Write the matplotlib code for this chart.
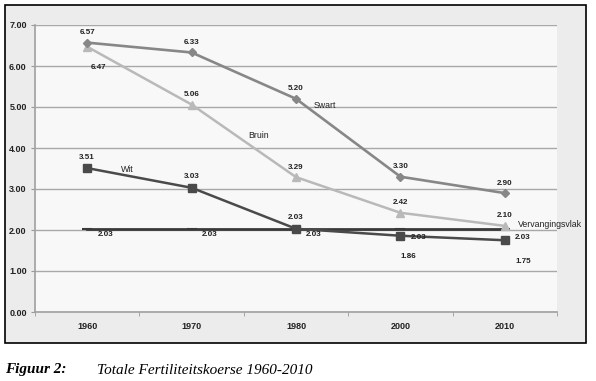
"""Totale Fertiliteitskoerse 1960-2010 -- line chart with a caption below the frame."""
import matplotlib
matplotlib.use("Agg")
import matplotlib.pyplot as plt
from matplotlib.patches import Rectangle

years = ["1960", "1970", "1980", "2000", "2010"]
swart = [6.57, 6.33, 5.20, 3.30, 2.90]
bruin = [6.47, 5.06, 3.29, 2.42, 2.10]
wit = [3.51, 3.03, 2.03, 1.86, 1.75]
vervanging = [2.03, 2.03, 2.03, 2.03, 2.03]
yticks = [0, 1, 2, 3, 4, 5, 6, 7]

PX = 72 / 100  # pixels -> points

fig = plt.figure(figsize=(5.96, 3.81), dpi=100)
fig.patch.set_facecolor("white")
W, H = 596, 381

# grey frame behind the chart
fig.patches.append(Rectangle((5 / W, 1 - 343 / H), 581 / W, 338 / H,
                             transform=fig.transFigure, facecolor="#ececec",
                             edgecolor="black", linewidth=1.2, zorder=-1))

ax = fig.add_axes([35 / W, 1 - 312 / H, 522 / W, 287 / H])
ax.set_zorder(1)
ax.set_facecolor("#f8f8f8")
x = list(range(len(years)))

ax.plot(x, vervanging, color="#3a3a3a", lw=2.0, marker="_", ms=7, mew=1.5, zorder=3)
ax.plot(x, wit, color="#4a4a4a", lw=1.8, marker="s", ms=5.5, zorder=4)
ax.plot(x, bruin, color="#b9b9b9", lw=1.8, marker="^", ms=5.5, zorder=4)
ax.plot(x, swart, color="#878787", lw=1.9, marker="D", ms=4, zorder=4)

ax.set_xlim(-0.5, len(years) - 0.5)
ax.set_ylim(0, 7)
ax.set_yticks(yticks)
ax.set_yticklabels([f"{v:.2f}" for v in yticks])
ax.set_xticks(x)
ax.set_xticklabels(years)
ax.set_xticks([i + 0.5 for i in range(-1, len(years))], minor=True)
ax.tick_params(axis="x", which="major", length=0, pad=7)
ax.tick_params(axis="x", which="minor", length=3, color="#999999")
ax.tick_params(axis="y", length=3, color="#999999", pad=3)
for lab in ax.get_xticklabels() + ax.get_yticklabels():
    lab.set_fontweight("bold")
    lab.set_fontsize(6.5)
    lab.set_color("#222222")
    lab.set_family("Liberation Sans")

ax.grid(axis="y", color="#a8a8a8", lw=1.0)
ax.set_axisbelow(True)
for side in ["top", "right"]:
    ax.spines[side].set_visible(False)
for side in ["left", "bottom"]:
    ax.spines[side].set_color("#a0a0a0")
    ax.spines[side].set_linewidth(1.2)


def label(xi, yi, text, dx, dy, weight="bold", ha="center", size=5.8):
    # dx, dy in pixels (dy positive = down)
    ax.annotate(text, (xi, yi), xytext=(dx * PX, -dy * PX), textcoords="offset points",
                ha=ha, va="center", fontsize=size, fontweight=weight,
                family="Liberation Sans", color="#222222", zorder=6,
                annotation_clip=False)


# value labels
for i, v in enumerate(swart):
    label(i, v, f"{v:.2f}", 0, -10)
label(0, bruin[0], f"{bruin[0]:.2f}", 11, 21)
for i, v in enumerate(bruin[1:], start=1):
    label(i, v, f"{v:.2f}", 0, -10)
for i, v in enumerate(wit[:3]):
    label(i, v, f"{v:.2f}", 0, -11)
label(3, wit[3], f"{wit[3]:.2f}", 8, 21)
label(4, wit[4], f"{wit[4]:.2f}", 18, 21)
for i, v in enumerate(vervanging):
    label(i, v, f"{v:.2f}", 18, 6 if i < 3 else 9)

# series names
label(0, wit[0], "Wit", 40, 1, weight="normal", size=6.3)
label(1, bruin[1], "Bruin", 67, 31, weight="normal", size=6.3)
label(2, swart[2], "Swart", 29, 7, weight="normal", size=6.3)
label(4, vervanging[4], "Vervangingsvlak", 13, -4, weight="normal", ha="left", size=6.3)

# caption
fig.text(5 / W, 1 - 370 / H, "Figuur 2:", family="Liberation Serif", style="italic",
         fontweight="bold", fontsize=11, va="center", ha="left")
fig.text(97 / W, 1 - 370 / H, "Totale Fertiliteitskoerse 1960-2010", family="Liberation Serif",
         style="italic", fontsize=11, va="center", ha="left")

fig.savefig("out.png", dpi=100)
